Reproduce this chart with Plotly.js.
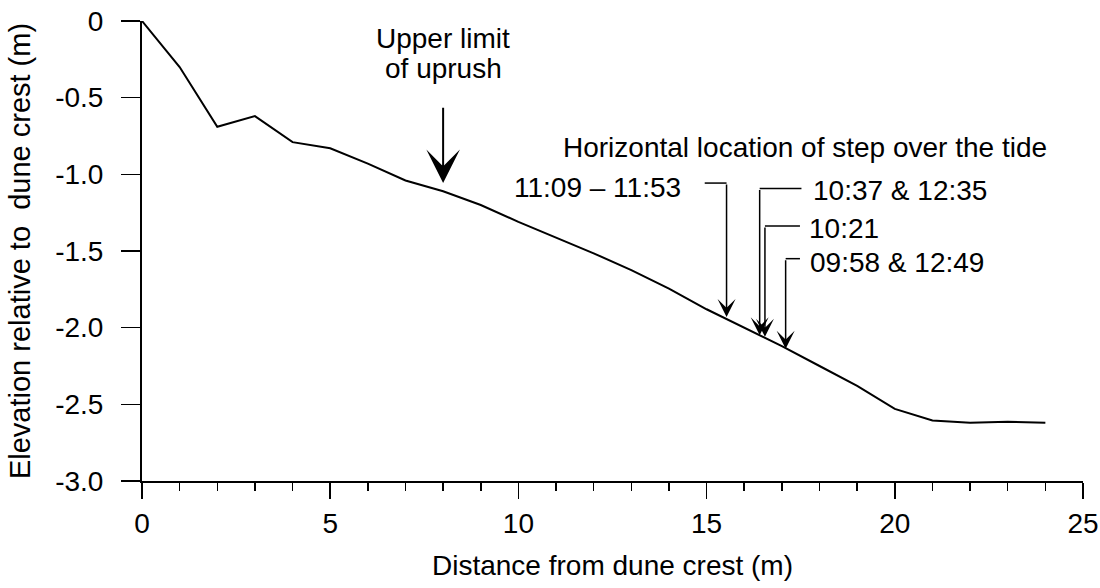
<!DOCTYPE html>
<html>
<head>
<meta charset="utf-8">
<script src="https://cdn.plot.ly/plotly-3.0.1.min.js"></script>
<style>html,body{margin:0;padding:0;background:#fff;}#chart{width:1100px;height:588px;}</style>
</head>
<body>
<div id="chart"></div>
<script>
// Beach profile
const distance = [0,1,2,3,4,5,6,7,8,9,10,11,12,13,14,15,16,17,18,19,20,21,22,23,24];
const elevation = [0,-0.30,-0.69,-0.62,-0.79,-0.83,-0.93,-1.04,-1.11,-1.20,-1.31,-1.41,-1.515,-1.625,-1.745,-1.88,-2.00,-2.12,-2.25,-2.38,-2.53,-2.605,-2.62,-2.613,-2.62];

// Step-location arrows
const stepLabels = ["11:09 \u2013 11:53", "10:37 & 12:35", "10:21", "09:58 & 12:49"];
const stepX = [15.53, 16.41, 16.55, 17.10];
const stepTipY = [-1.93, -2.05, -2.06, -2.137];
const stepTailY = [-1.057, -1.093, -1.337, -1.55];
const stepElbowX = [14.95, 17.52, 17.48, 17.48];
const stepLabelX = [14.37, 17.77, 17.66, 17.69];
const stepLabelY = [-1.085, -1.104, -1.352, -1.574];
const stepLabelAnchor = ["right", "left", "left", "left"];

// Uprush arrow
const uprushX = 8.0;
const uprushTipY = -1.057;
const uprushTailY = -0.556;
const uprushLines = ["Upper limit", "of uprush"];
const uprushLineY = [-0.115, -0.31];

const stepTitle = "Horizontal location of step over the tide";
const stepTitleX = 17.61;
const stepTitleY = -0.825;

const xTickVals = [0,5,10,15,20,25];
const yTickVals = [0,-0.5,-1.0,-1.5,-2.0,-2.5,-3.0];
const yTickText = ["0","-0.5","-1.0","-1.5","-2.0","-2.5","-3.0"];

const FONT = "Liberation Sans, Arial, Helvetica, sans-serif";
const FS = 28;

const annotations = [];
const shapes = [];

annotations.push({x: uprushX, y: uprushTipY, ax: uprushX, ay: uprushTailY, axref: 'x', ayref: 'y', xref: 'x', yref: 'y',
  showarrow: true, arrowhead: 3, arrowsize: 2.8, arrowwidth: 2, arrowcolor: '#000', text: '', standoff: 0});
for (let i = 0; i < uprushLines.length; i++) {
  annotations.push({x: uprushX, y: uprushLineY[i], xref: 'x', yref: 'y', text: uprushLines[i], showarrow: false,
    font: {family: FONT, size: FS, color: '#000'}, xanchor: 'center', yanchor: 'middle'});
}
annotations.push({x: stepTitleX, y: stepTitleY, xref: 'x', yref: 'y', text: stepTitle, showarrow: false,
  font: {family: FONT, size: FS, color: '#000'}, xanchor: 'center', yanchor: 'middle'});

for (let i = 0; i < stepX.length; i++) {
  annotations.push({x: stepX[i], y: stepTipY[i], ax: stepX[i], ay: stepTailY[i], axref: 'x', ayref: 'y', xref: 'x', yref: 'y',
    showarrow: true, arrowhead: 3, arrowsize: 2.0, arrowwidth: 1.5, arrowcolor: '#000', text: '', standoff: 0});
  annotations.push({x: stepLabelX[i], y: stepLabelY[i], xref: 'x', yref: 'y', text: stepLabels[i], showarrow: false,
    font: {family: FONT, size: FS, color: '#000'}, xanchor: stepLabelAnchor[i], yanchor: 'middle'});
  shapes.push({type: 'line', xref: 'x', yref: 'y', x0: stepElbowX[i], x1: stepX[i], y0: stepTailY[i], y1: stepTailY[i],
    line: {color: '#000', width: 1.5}});
}

// y-axis title as annotation for precise placement
annotations.push({xref: 'paper', yref: 'paper', x: -0.1296, y: 0.5, text: "Elevation relative to&nbsp;&nbsp;dune crest (m)",
  textangle: -90, showarrow: false, font: {family: FONT, size: 29, color: '#000'}, xanchor: 'center', yanchor: 'middle'});

const trace = {x: distance, y: elevation, type: 'scatter', mode: 'lines', line: {color: '#000', width: 2}, hoverinfo: 'none', cliponaxis: false};

const layout = {
  width: 1100, height: 588,
  margin: {l: 142, r: 17, t: 21, b: 107},
  paper_bgcolor: '#fff', plot_bgcolor: '#fff',
  showlegend: false,
  font: {family: FONT, size: FS, color: '#000'},
  xaxis: {range: [0, 25], tickvals: xTickVals, ticks: 'outside', ticklen: 16, tickwidth: 1.5, tickcolor: '#000',
    showline: true, linewidth: 2, linecolor: '#000', showgrid: false, zeroline: false,
    tickfont: {family: FONT, size: FS, color: '#000'}, ticklabelstandoff: 0,
    minor: {dtick: 1, ticks: 'outside', ticklen: 8, tickwidth: 1.5, tickcolor: '#000', showgrid: false},
    title: {text: "Distance from dune crest (m)", font: {family: FONT, size: FS, color: '#000'}, standoff: 18}},
  yaxis: {range: [-3, 0], tickvals: yTickVals, ticktext: yTickText, ticks: 'outside', ticklen: 19, tickwidth: 1.5, tickcolor: '#000',
    showline: true, linewidth: 2, linecolor: '#000', showgrid: false, zeroline: false,
    tickfont: {family: FONT, size: FS, color: '#000'}, ticklabelstandoff: 12},
  annotations: annotations,
  shapes: shapes
};

Plotly.newPlot('chart', [trace], layout, {staticPlot: true, displayModeBar: false});
</script>
</body>
</html>
